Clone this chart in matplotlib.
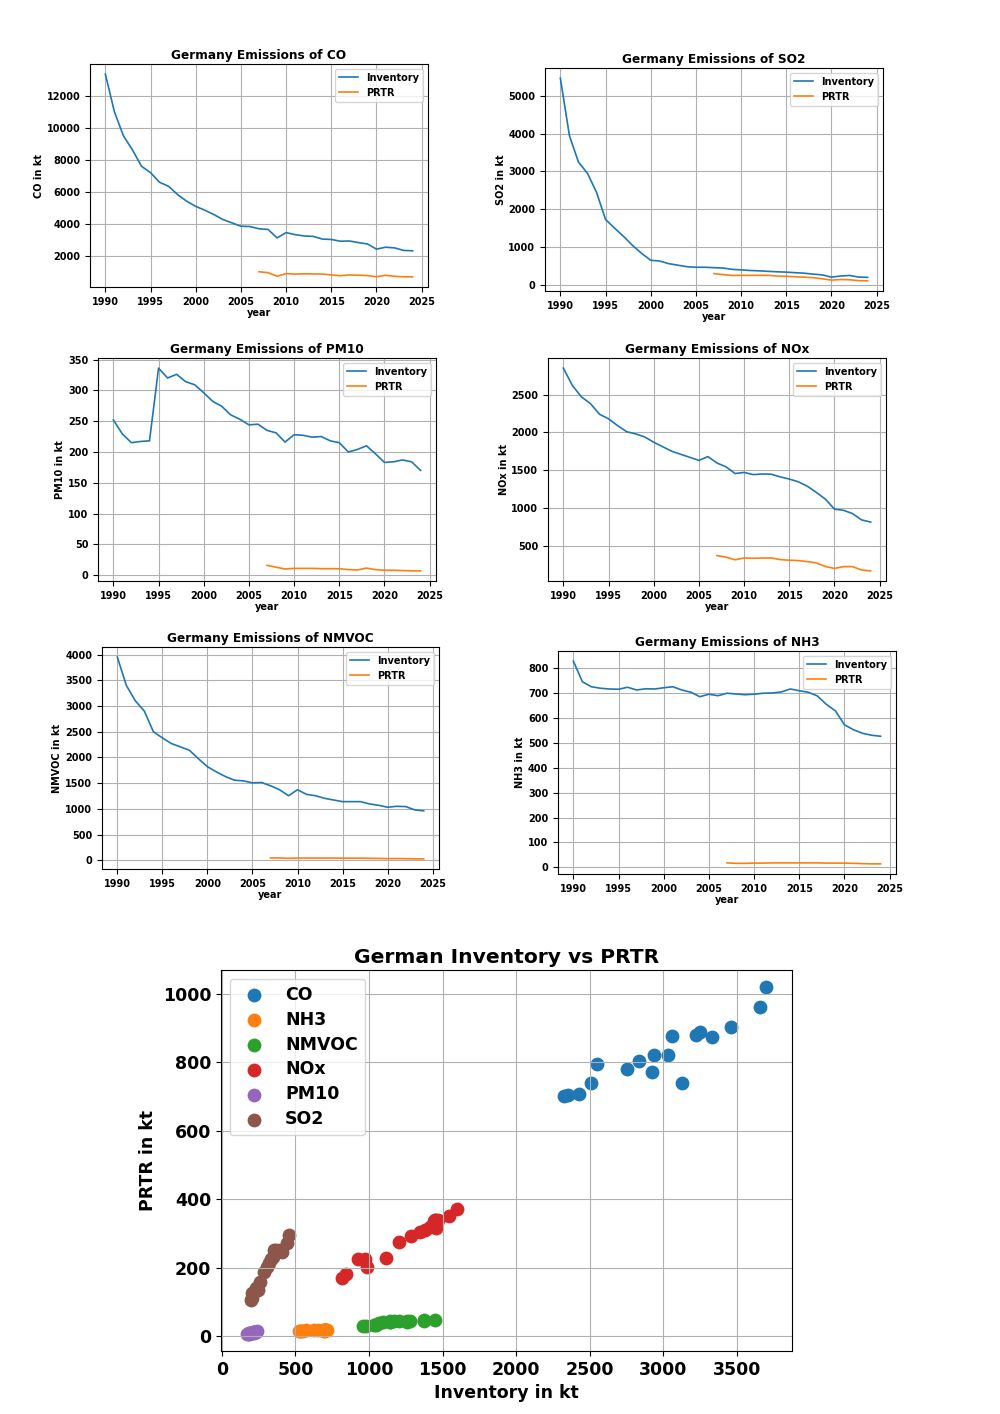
import numpy as np
import matplotlib
matplotlib.use("Agg")
import matplotlib.pyplot as plt

plt.rcParams['font.weight'] = 'bold'
plt.rcParams['axes.titleweight'] = 'bold'
plt.rcParams['axes.labelweight'] = 'bold'

years = np.arange(1990, 2025)
prtr_years = np.arange(2007, 2025)

# inventory 1990-2024 (kt)
inv_co = [13350, 11000, 9500, 8620, 7600, 7200, 6600, 6350, 5830, 5420,
          5100, 4860, 4590, 4280, 4070, 3860, 3840, 3700, 3660, 3130,
          3460, 3334, 3252, 3225, 3060, 3033, 2924, 2939, 2839, 2753,
          2429, 2550, 2509, 2350, 2326]
inv_so2 = [5470, 3950, 3250, 2950, 2450, 1730, 1500, 1280, 1040, 830,
           650, 630, 560, 520, 480, 465, 465, 454, 445, 410,
           395, 380, 370, 357, 345, 336, 321, 307, 283, 262,
           203, 233, 248, 205, 198]
inv_pm10 = [252, 229, 215, 217, 218, 336, 320, 326, 314, 309,
            296, 282, 274, 260, 253, 244, 245, 235, 231, 216,
            228, 227, 224, 225, 218, 215, 200, 204, 210, 197,
            183, 184, 187, 184, 170]
inv_nox = [2850, 2620, 2470, 2380, 2240, 2180, 2090, 2010, 1980, 1940,
           1870, 1810, 1750, 1710, 1670, 1630, 1680, 1595, 1545, 1456,
           1471, 1442, 1450, 1447, 1412, 1383, 1347, 1288, 1206, 1117,
           985, 970, 926, 843, 814]
inv_nmvoc = [3950, 3400, 3100, 2900, 2500, 2380, 2270, 2205, 2140, 1975,
             1820, 1718, 1628, 1557, 1545, 1506, 1513, 1449, 1372, 1256,
             1372, 1282, 1256, 1205, 1173, 1141, 1141, 1141, 1096, 1070,
             1032, 1051, 1045, 981, 962]
inv_nh3 = [829, 746, 726, 720, 717, 716, 724, 713, 718, 717,
           722, 726, 713, 704, 686, 696, 690, 700, 697, 694,
           696, 700, 701, 705, 717, 710, 704, 689, 655, 629,
           573, 553, 539, 531, 527]

# PRTR 2007-2024 (kt)
prtr_co = [1019, 962, 740, 903, 874, 889, 881, 878, 820, 771,
           820, 805, 780, 708, 796, 738, 704, 700]
prtr_so2 = [296, 271, 247, 252, 250, 252, 252, 232, 225, 213,
            203, 188, 159, 125, 140, 135, 110, 105]
prtr_pm10 = [16, 13, 10, 11, 11, 11, 10.5, 10.5, 10.5, 9,
             8.5, 11.5, 9, 8, 8, 7.5, 7, 7]
prtr_nox = [371, 351, 315, 340, 335, 338, 340, 318, 310, 305,
            291, 274, 227, 201, 225, 225, 180, 169]
prtr_nmvoc = [48, 46, 40, 44, 45, 44, 45, 44, 43, 42,
              42, 40, 38, 33, 35, 32, 29, 28]
prtr_nh3 = [18, 16, 16, 17, 17, 18, 18, 18, 18, 18,
            18, 17, 17, 17, 16, 15, 14, 14]

pollutants = ["CO", "SO2", "PM10", "NOx", "NMVOC", "NH3"]
inventory = [inv_co, inv_so2, inv_pm10, inv_nox, inv_nmvoc, inv_nh3]
prtr = [prtr_co, prtr_so2, prtr_pm10, prtr_nox, prtr_nmvoc, prtr_nh3]

fig = plt.figure(figsize=(10, 14.14), dpi=100)

# axes boxes in pixels: left, right, top, bottom
boxes = [(90, 428, 64, 287), (545, 883, 68, 291),
         (98, 436, 358, 581), (548, 886, 358, 581),
         (102, 439, 647, 869), (558, 896, 651, 874)]

for name, inv, pr, (l, r, t, b) in zip(pollutants, inventory, prtr, boxes):
    ax = fig.add_axes([l/1000, 1-b/1414, (r-l)/1000, (b-t)/1414])
    ax.plot(years, inv, label="Inventory", lw=1.2)
    ax.plot(prtr_years, pr, label="PRTR", lw=1.2)
    ax.set_title("Germany Emissions of " + name, fontsize=8.7, pad=3.5)
    ax.set_xlabel("year", fontsize=7, labelpad=1)
    ax.set_ylabel(name + " in kt", fontsize=7, labelpad=2)
    ax.tick_params(labelsize=7)
    ax.grid(True)
    ax.legend(loc="upper right", fontsize=7)

# scatter inventory vs PRTR, years 2007-2024
sc_order = ["CO", "NH3", "NMVOC", "NOx", "PM10", "SO2"]
ax = fig.add_axes([221/1000, 1-1351/1414, 571/1000, 381/1414])
for name in sc_order:
    i = pollutants.index(name)
    ax.scatter(inventory[i][17:], prtr[i], s=80, label=name)
ax.set_title("German Inventory vs PRTR", fontsize=14.6, pad=5)
ax.set_xlabel("Inventory in kt", fontsize=12.5)
ax.set_ylabel("PRTR in kt", fontsize=12.5)
ax.tick_params(labelsize=12.5)
ax.grid(True)
ax.legend(loc="upper left", fontsize=12.5, labelspacing=0.4)

fig.savefig("out.png", dpi=100)
